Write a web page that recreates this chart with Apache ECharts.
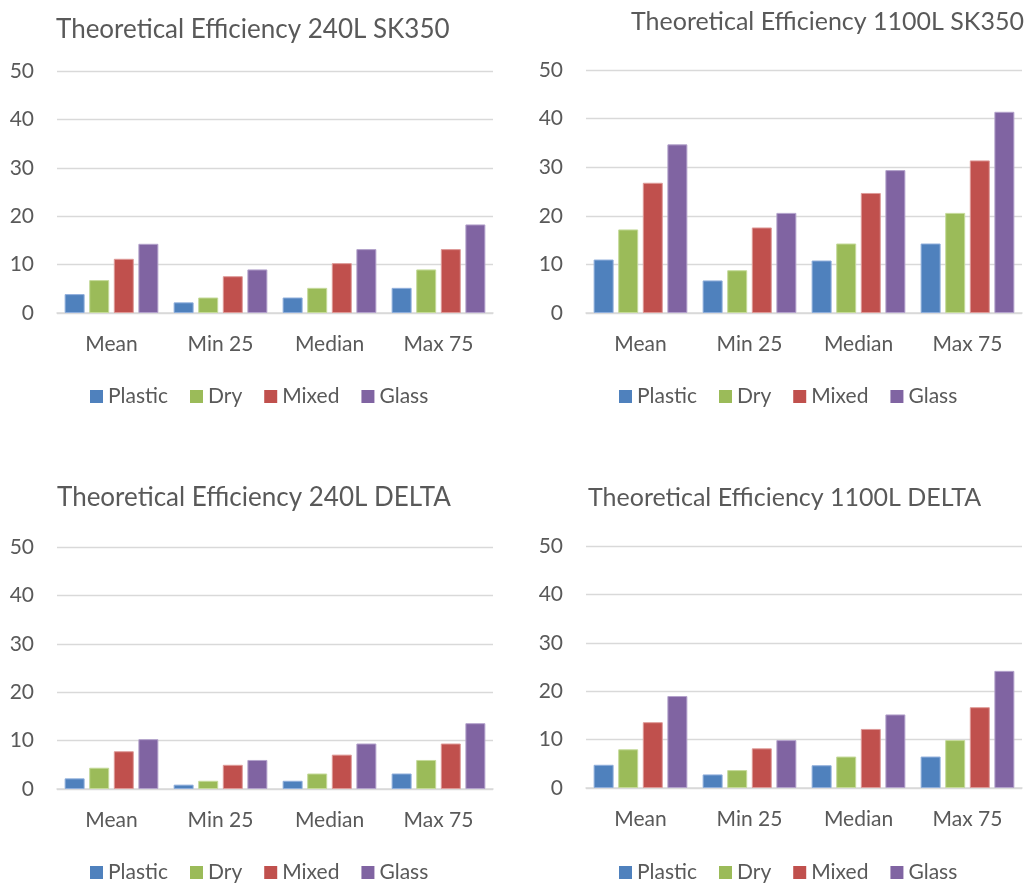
<!DOCTYPE html>
<html>
<head>
<meta charset="utf-8">
<script src="https://cdn.jsdelivr.net/npm/echarts@6/dist/echarts.min.js"></script>
<style>
html,body{margin:0;padding:0;background:#fff;}
#main{width:1030px;height:886px;}
</style>
</head>
<body>
<div id="main"></div>
<script>
const categories = ['Mean', 'Min 25', 'Median', 'Max 75'];
const seriesNames = ['Plastic', 'Dry', 'Mixed', 'Glass'];
const yTicks = [0, 10, 20, 30, 40, 50];
const chartTitles = ['Theoretical Efficiency 240L SK350', 'Theoretical Efficiency 1100L SK350',
                     'Theoretical Efficiency 240L DELTA', 'Theoretical Efficiency 1100L DELTA'];

// 240L SK350
const plastic_240_SK = [3.9, 2.2, 3.2, 5.2];
const dry_240_SK     = [6.8, 3.2, 5.2, 9.0];
const mixed_240_SK   = [11.2, 7.6, 10.3, 13.2];
const glass_240_SK   = [14.3, 9.0, 13.2, 18.3];
// 1100L SK350
const plastic_1100_SK = [11.0, 6.7, 10.8, 14.3];
const dry_1100_SK     = [17.2, 8.8, 14.3, 20.6];
const mixed_1100_SK   = [26.8, 17.6, 24.7, 31.4];
const glass_1100_SK   = [34.7, 20.6, 29.4, 41.4];
// 240L DELTA
const plastic_240_DE = [2.2, 0.9, 1.7, 3.2];
const dry_240_DE     = [4.4, 1.7, 3.2, 6.0];
const mixed_240_DE   = [7.8, 5.0, 7.1, 9.4];
const glass_240_DE   = [10.3, 6.0, 9.4, 13.6];
// 1100L DELTA
const plastic_1100_DE = [4.8, 2.8, 4.7, 6.5];
const dry_1100_DE     = [8.0, 3.7, 6.5, 9.9];
const mixed_1100_DE   = [13.6, 8.2, 12.2, 16.7];
const glass_1100_DE   = [19.0, 9.9, 15.2, 24.2];

const chartData = [
  [plastic_240_SK, dry_240_SK, mixed_240_SK, glass_240_SK],
  [plastic_1100_SK, dry_1100_SK, mixed_1100_SK, glass_1100_SK],
  [plastic_240_DE, dry_240_DE, mixed_240_DE, glass_240_DE],
  [plastic_1100_DE, dry_1100_DE, mixed_1100_DE, glass_1100_DE]
];

const colors = ['#4F81BD', '#9BBB59', '#C0504D', '#8064A2'];
const borders = ['#8FAEDB', '#C5DA9A', '#DE9A98', '#B3A2CB'];
const FONT = 'Lato';
const TXT = '#595959';

const layout = [
  {left: 57, right: 537, top: 71, height: 242, titleLeft: 56, titleTop: 17, titleSize: 26, legendLeft: 90, legendTop: 386},
  {left: 586, right: 8, top: 70, height: 243, titleLeft: 631, titleTop: 9, titleSize: 25, legendLeft: 619, legendTop: 386},
  {left: 57, right: 537, top: 547, height: 242, titleLeft: 57, titleTop: 485, titleSize: 26, legendLeft: 90, legendTop: 862},
  {left: 586, right: 8, top: 546, height: 242, titleLeft: 588, titleTop: 485, titleSize: 25, legendLeft: 619, legendTop: 862}
];

const option = {
  animation: false,
  backgroundColor: '#fff',
  title: [], legend: [], grid: [], xAxis: [], yAxis: [], series: []
};

layout.forEach((L, i) => {
  option.title.push({
    text: chartTitles[i], left: L.titleLeft, top: L.titleTop, padding: 0,
    textStyle: {fontFamily: FONT, fontSize: L.titleSize, fontWeight: 'normal', color: TXT}
  });
  option.grid.push({left: L.left, right: L.right, top: L.top, height: L.height, containLabel: false});
  option.xAxis.push({
    type: 'category', gridIndex: i, data: categories,
    axisLine: {show: true, lineStyle: {color: '#D9D9D9', width: 1.5}},
    axisTick: {show: false},
    axisLabel: {fontFamily: FONT, fontSize: 21, color: TXT, margin: 21}
  });
  option.yAxis.push({
    type: 'value', gridIndex: i, min: yTicks[0], max: yTicks[yTicks.length - 1], interval: 10,
    axisLine: {show: false}, axisTick: {show: false},
    splitLine: {show: true, lineStyle: {color: '#D9D9D9', width: 1.3}},
    axisLabel: {fontFamily: FONT, fontSize: 21, color: TXT, margin: 23}
  });
  option.legend.push({
    left: L.legendLeft, top: L.legendTop, orient: 'horizontal', padding: 0,
    itemWidth: 13, itemHeight: 13, itemGap: 22, icon: 'rect',
    textStyle: {fontFamily: FONT, fontSize: 21, color: TXT},
    data: seriesNames.map((n, k) => ({name: n, itemStyle: {color: colors[k], borderWidth: 0}})),
    selectedMode: false
  });
  seriesNames.forEach((name, k) => {
    option.series.push({
      name: name, type: 'bar', xAxisIndex: i, yAxisIndex: i,
      data: chartData[i][k],
      barCategoryGap: '14%', barGap: '23%',
      itemStyle: {color: colors[k], borderColor: borders[k], borderWidth: 1},
      emphasis: {disabled: true}
    });
  });
});

const chart = echarts.init(document.getElementById('main'), null, {renderer: 'canvas'});
chart.setOption(option);
</script>
</body>
</html>
